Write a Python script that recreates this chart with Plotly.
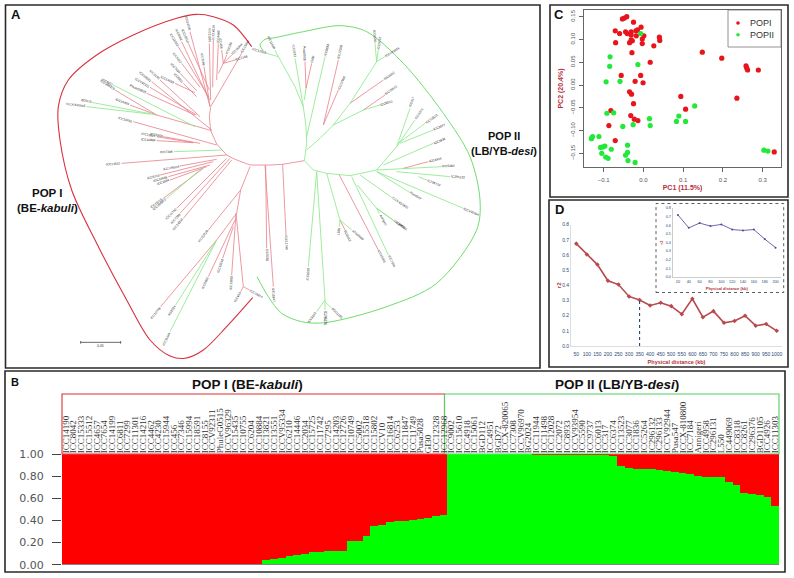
import math
import plotly.graph_objects as go

W, H = 794, 578
RED, GREEN = "#ff0000", "#00ff00"

# ---------- Panel B: STRUCTURE admixture ----------
pop1_names = ["ICC14190","ICC8042","ICC15333","ICC15512","ICC4657","ICC7654","ICC14199","ICC6811","ICC7299","ICC11301",
 "ICC14216","ICC4462","ICC4230","ICC15944","ICC456","ICC7346","ICC15994","ICC18591","ICC8155","ICCV92311",
 "PhuleG0515","ICCV96329","ICC15435","ICC10755","ICC6204","ICC10884","ICC13821","ICC13551","ICCV95334","ICC6210",
 "ICC14446","ICC2034","ICC15725","ICC11742","ICC7295","ICC14203","ICC12726","ICC10749","ICC5002","ICC15518",
 "ICC15802","ICCV10","ICC16814","ICC6253","ICC11847","ICC11749","Pusa5028","GI30","ICC12328","ICC12968"]
pop2_names = ["ICC9002","ICC15610","ICC4918","ICC15061","BGD112","ICC4951","BGD72","ICCX-820065","ICC7308","ICCV96970",
 "BG2024","ICC11944","ICC11498","ICC12028","ICC2072","ICC8933","ICCV93954","ICC5590","ICC9737","ICC6013",
 "ICC317","ICC6374","ICC13523","ICC3077","ICC1836","ICC5264","IC296132","IC296133","ICCV92944","Pusa547",
 "ICCX-810800","ICC7184","Annigeri","ICC4958","IC296131","L550","IC449069","ICC8318","ICC8261","IC296376",
 "BGD1105","ICC4926","ICC11303"]
pop1_green = [0]*26 + [.04,.045,.055,.08,.085,.09,.11,.115,.12,.125,.125,.21,.215,.26,.35,.36,.38,.395,.395,.40,.41,.42,.435,.45]
pop2_red = [0]*11 + [.003]*10 + [.02,.105,.125,.14,.14,.14,.145,.15,.16,.17,.18,.195,.205,.205,.21,.25,.28,.35,.36,.37,.39,.47]
accessions = pop1_names + pop2_names
green_share = pop1_green + [1 - v for v in pop2_red]
red_share = [1 - v for v in green_share]

# ---------- Panel C: PCA ----------
pop1_pc1 = [-.053,-.048,-.042,-.025,-.071,-.060,-.045,-.031,-.006,-.015,-.019,-.031,-.041,-.018,.001,-.003,-.031,-.070,-.035,-.028,-.003,.026,.040,.041,-.029,.017,.148,.197,.258,.260,.262,.289,-.056,-.007,-.021,-.001,-.035,-.030,.094,.235,-.025,.106,-.082,-.032,-.023,-.014,-.087,-.071,.329]
pop1_pc2 = [.145,.147,.150,.138,.119,.113,.117,.117,.127,.121,.119,.110,.113,.108,.108,.101,.099,.093,.093,.097,.091,.086,.105,.098,.071,.050,.072,.059,.042,.037,.033,.033,.021,.021,.008,.005,-.015,-.020,-.025,-.029,-.041,-.053,-.056,-.067,-.075,-.078,-.089,-.122,-.147]
pop2_pc1 = [-.084,-.085,-.014,-.094,-.059,-.007,-.092,-.075,-.052,-.026,.015,.017,.089,.083,.106,.129,-.112,-.128,-.130,-.131,-.097,-.108,-.102,-.081,-.040,-.105,-.040,-.045,-.095,-.089,-.039,-.021,.303,.313]
pop2_pc2 = [.062,.041,.045,.007,.008,.113,-.062,-.061,-.091,-.087,-.074,-.089,-.068,-.080,-.080,-.046,-.113,-.113,-.116,-.118,-.134,-.137,-.136,-.141,-.132,-.150,-.148,-.154,-.158,-.161,-.166,-.170,-.143,-.145]

# ---------- Panel D: LD decay ----------
ld_dist = ["50","100","150","200","250","300","350","400","450","500","550","600","650","700","750","800","850","900","950","1000"]
ld_r2 = [.675,.603,.537,.43,.405,.327,.303,.267,.285,.263,.21,.311,.19,.23,.153,.165,.20,.134,.145,.10]
inset_dist = ["20","40","60","80","100","120","140","160","180","200"]
inset_r2 = [.72,.57,.625,.59,.61,.55,.54,.55,.44,.34]

# ---------- Panel A: phylogenetic tree (branch from -> to, last flag = labelled tip) ----------
# left half
tree_left_red = [
 (632,322,628,350,0),(628,350,632,392,0),(632,392,650,432,0),(650,432,680,465,0),(680,465,705,478,0),(705,478,750,495,0),(750,495,810,495,0),(810,495,848,493,0),(848,493,913,482,0),
 (630,320,570,95,1),(628,300,545,125,1),(625,290,535,140,1),(628,270,565,130,1),(600,262,545,190,1),(590,272,540,220,1),(585,278,525,250,1),(590,290,550,250,1),
 (630,320,612,200,1),(632,300,628,130,1),(638,262,640,120,1),(650,240,655,130,1),(655,220,670,190,0),(670,190,680,165,1),(670,190,695,165,1),(670,190,665,150,1),(670,190,705,180,1),(632,320,725,160,1),
 (635,390,455,245,1),(600,350,480,240,1),(590,345,450,262,1),(585,345,440,280,1),(635,392,470,345,0),(470,345,345,270,1),(470,345,390,315,1),
 (650,435,400,365,1),(600,430,490,410,1),(580,428,470,422,1),(580,428,470,410,1),
 (680,465,365,490,1),(650,478,540,498,1),(640,485,480,525,1),(630,495,505,530,1),(620,500,510,540,1),(610,505,490,595,1),
 (680,475,530,625,1),(690,475,540,640,1),(695,480,550,655,1),
 (750,500,722,570,0),(722,570,625,690,1),(722,570,710,640,0),(710,640,650,720,0),(650,720,482,920,1),
 (705,660,625,830,1),(700,680,668,775,1),(708,640,695,825,1),(708,640,730,860,0),(730,860,722,875,1),(730,860,748,870,1),
 (797,495,800,745,1),(795,497,820,860,1),(848,493,858,705,1),
]
tree_left_green = [
 (585,380,340,255,1),(470,345,275,307,1),(450,342,260,320,1),(668,450,522,455,1),(605,505,500,595,1),
 (650,720,527,915,1),(650,720,510,995,1),
]
# right half (drawn with an x offset)
tree_right_green = [
 (103,482,110,430,0),(110,430,108,380,0),(108,380,100,320,0),(100,320,75,260,0),(75,260,25,170,0),(25,170,15,150,1),(25,170,-10,160,1),
 (100,320,75,175,1),(103,300,108,265,0),(110,410,165,170,1),
 (110,450,150,415,0),(150,415,190,375,0),(190,375,240,310,0),(240,310,320,185,0),(320,185,345,170,1),(320,185,315,130,1),(320,185,325,150,1),
 (190,375,280,330,0),(280,330,330,315,1),
 (103,482,130,510,0),(130,510,170,520,0),(170,520,240,527,0),(240,527,320,510,0),(320,510,380,440,0),(380,440,420,325,1),(380,440,435,360,1),(385,430,465,370,1),(390,430,490,390,1),(340,495,490,430,1),
 (320,510,515,500,1),(380,515,540,530,1),(445,530,470,540,1),(320,515,580,625,1),(320,515,420,578,1),(270,525,365,592,1),(245,530,355,765,1),
 (262,555,320,625,0),(320,625,328,640,1),(320,625,370,660,1),(320,625,375,665,1),
 (170,520,210,660,0),(210,660,208,680,1),(210,660,245,690,1),
 (140,515,115,800,1),(140,515,165,900,0),(165,900,140,935,1),(165,900,165,930,1),(165,905,185,925,1),
]
tree_right_red = [
 (108,265,105,185,1),(108,265,125,190,1),(160,375,205,180,1),(160,375,205,270,1),
 (240,310,340,240,1),(280,330,345,285,1),(400,505,475,485,1),(208,525,325,750,1),(210,660,225,690,1),
]
tree_scale = [(242,1027,362,1027),(242,1023,242,1031),(362,1023,362,1031)]
hull_red_x = [755,700,640,590,530,400,290,205,175,180,215,290,380,450,510,555,610,680,758]
hull_red_y = [140,75,50,43,55,105,165,240,320,420,570,730,900,1020,1068,1075,1050,980,893]
hull_green_x = [790,780,795,820,910,1020,1100,1210,1330,1410,1440,1430,1310,1160,975,905,845,805,771]
hull_green_y = [153,135,118,114,95,77,95,190,340,470,600,690,850,920,968,965,940,890,830]

# ---------- layout helpers ----------
def dx(a, b): return [a / W, b / W]
def dy(top, bottom): return [1 - bottom / H, 1 - top / H]
def px(v): return v / W
def py(v): return 1 - v / H

RIGHT_OFFSET = 810
names_iter = iter((pop1_names + pop2_names) * 2)
tree_texts = []

def segs(items, offset=0):
    xs, ys = [], []
    for b in items:
        x0, y0, x1, y1 = b[0] + offset, b[1], b[2] + offset, b[3]
        xs += [x0, x1, None]; ys += [y0, y1, None]
        if len(b) > 4 and b[4]:
            a = math.atan2(y1 - y0, x1 - x0)
            name = next(names_iter)
            gap = 2.6 * len(name) + 3
            ang = math.degrees(a)
            if ang > 90: ang -= 180
            elif ang <= -90: ang += 180
            tree_texts.append(dict(x=x1 + gap * math.cos(a), y=y1 + gap * math.sin(a), text=name,
                                   textangle=ang, xref="x", yref="y", showarrow=False,
                                   font=dict(size=3.2, color="#222", family="Liberation Sans")))
    return xs, ys

fig = go.Figure()

def tree_line(xs, ys, color, width, shape="linear"):
    fig.add_trace(go.Scatter(x=xs, y=ys, mode="lines", showlegend=False, hoverinfo="skip",
                             line=dict(color=color, width=width, shape=shape, smoothing=0.9), xaxis="x", yaxis="y"))

tree_line(*segs(tree_left_red), "#e77f88", 0.8)
tree_line(*segs(tree_right_red, RIGHT_OFFSET), "#e77f88", 0.8)
tree_line(*segs(tree_left_green), "#84e884", 0.8)
tree_line(*segs(tree_right_green, RIGHT_OFFSET), "#84e884", 0.8)
tree_line(hull_red_x, hull_red_y, "#d8303e", 1.1, "spline")
tree_line(hull_green_x, hull_green_y, "#6fdc6f", 1.0, "spline")
tree_line(*segs(tree_scale), "#444", 0.8)

# Panel B
idx = list(range(len(accessions)))
fig.add_trace(go.Bar(x=idx, y=green_share, marker=dict(color=GREEN, line=dict(width=0)), showlegend=False, xaxis="x2", yaxis="y2", hoverinfo="skip"))
fig.add_trace(go.Bar(x=idx, y=red_share, marker=dict(color=RED, line=dict(width=0)), showlegend=False, xaxis="x2", yaxis="y2", hoverinfo="skip"))

# Panel C
POP1_COL, POP2_COL = "#e8141c", "#22e83a"
fig.add_trace(go.Scatter(x=pop1_pc1, y=pop1_pc2, mode="markers", name="POPI", showlegend=False, marker=dict(color=POP1_COL, size=5.2), xaxis="x3", yaxis="y3"))
fig.add_trace(go.Scatter(x=pop2_pc1, y=pop2_pc2, mode="markers", name="POPII", showlegend=False, marker=dict(color=POP2_COL, size=5.2), xaxis="x3", yaxis="y3"))
# legend of panel C, sized like the original key box
fig.add_trace(go.Scatter(x=[738 * 3, 738 * 3], y=[23 * 3, 34.7 * 3], mode="markers", showlegend=False, hoverinfo="skip",
                         marker=dict(color=[POP1_COL, POP2_COL], size=3.6), xaxis="x", yaxis="y"))

# Panel D
fig.add_trace(go.Scatter(x=ld_dist, y=ld_r2, mode="lines+markers", showlegend=False,
                         line=dict(color="#b8494c", width=1.6), marker=dict(color="#b8494c", size=3.5, symbol="diamond"), xaxis="x4", yaxis="y4"))
fig.add_trace(go.Scatter(x=["350", "350"], y=[0, ld_r2[6]], mode="lines", showlegend=False,
                         line=dict(color="#2b4470", width=1.1, dash="dot"), xaxis="x4", yaxis="y4"))
fig.add_trace(go.Scatter(x=inset_dist, y=inset_r2, mode="lines+markers", showlegend=False,
                         line=dict(color="#6f66ad", width=1.0), marker=dict(color="#4f4a8f", size=2), xaxis="x5", yaxis="y5"))

FRAME = "#2a2a2a"
def frame(x0, y0, x1, y1, color=FRAME, width=1.6, dash="solid", fill=None):
    return dict(type="rect", xref="paper", yref="paper", x0=px(x0), x1=px(x1), y0=py(y1), y1=py(y0),
                line=dict(color=color, width=width, dash=dash), fillcolor=fill, layer="below")

shapes = [frame(5.5, 5, 540, 368), frame(550, 5, 788, 197), frame(549, 200, 788, 367), frame(5, 371, 785, 572),
          frame(62, 394, 444.5, 454, "#e03030", 1.1), frame(444.5, 394, 779, 454, "#50d060", 1.1),
          frame(656, 203.5, 783.7, 292.5, "#333", 0.8, "dot"),
          frame(728, 10, 781, 47, "#777", 0.8),
          dict(type="line", xref="x2", yref="y2", x0=-0.5, x1=len(accessions) - 0.5, y0=0, y1=0, line=dict(color="#333", width=1), layer="above")]

BOLD = "Liberation Sans"
def label(x, y, text, size=11, color="#111", anchor="center"):
    return dict(x=px(x), y=py(y), xref="paper", yref="paper", text=text, showarrow=False, xanchor=anchor,
                yanchor="middle", font=dict(size=size, color=color, family=BOLD))

annotations = tree_texts + [
    dict(x=300, y=1039, xref="x", yref="y", text="0.05", showarrow=False, font=dict(size=3.5, color="#333", family=BOLD)),
    label(15.5, 15, "<b>A</b>", 13), label(15, 382, "<b>B</b>", 11), label(559, 15, "<b>C</b>", 13), label(559, 209, "<b>D</b>", 13),
    label(47, 193, "<b>POP I</b>", 11.5), label(47, 208, "<b>(BE-<i>kabuli</i>)</b>", 11.5),
    label(504, 135.5, "<b>POP II</b>", 11), label(504, 151, "<b>(LB/YB-<i>desi</i>)</b>", 11),
    label(247, 384, "<b>POP I (BE-<i>kabuli</i>)</b>", 13.5), label(617, 384, "<b>POP II (LB/YB-<i>desi</i>)</b>", 13.5),
    label(748, 23, "POPI", 9, "#333", "left"), label(748, 34.7, "POPII", 9, "#333", "left"),
]

AXC = "#666"
TICK_C = dict(size=6, color="#555", family=BOLD)
BLUE = dict(size=5, color="#2b4a78", family="Liberation Sans")
TITLE_RED = dict(size=7, color="#b5303a", family=BOLD)

layout = dict(
    width=W, height=H, margin=dict(l=0, r=0, t=0, b=0, autoexpand=False), paper_bgcolor="white", plot_bgcolor="rgba(0,0,0,0)",
    barmode="stack", bargap=0, shapes=shapes, annotations=annotations, showlegend=False,
    xaxis=dict(domain=[0, 1], range=[0, W * 3], visible=False, fixedrange=True),
    yaxis=dict(domain=[0, 1], range=[H * 3, 0], visible=False, fixedrange=True),
    xaxis2=dict(domain=dx(62, 779), range=[-0.5, len(accessions) - 0.5], anchor="y2", side="top", tickmode="array",
                tickvals=idx, ticktext=accessions, tickangle=-90, ticks="", showgrid=False, zeroline=False, showline=False,
                tickfont=dict(size=9, color="#333", family="Liberation Serif")),
    yaxis2=dict(domain=dy(454.3, 564.7), range=[0, 1], anchor="x2", tickmode="array", tickvals=[0, .2, .4, .6, .8, 1],
                ticktext=["0.00", "0.20", "0.40", "0.60", "0.80", "1.00"], ticks="outside", ticklen=9, tickwidth=1, tickcolor="#444",
                showgrid=False, zeroline=False, showline=False, ticklabelstandoff=6,
                tickfont=dict(size=11, color="#555", family="DejaVu Sans")),
    xaxis3=dict(domain=dx(584, 781), range=[-0.1496, 0.346], anchor="y3", tickmode="array", tickvals=[-.1, 0, .1, .2, .3],
                ticktext=["−0.1", "0.0", "0.1", "0.2", "0.3"], ticks="outside", ticklen=4, tickcolor=AXC, mirror=True, showline=True, ticklabelstandoff=3,
                linecolor=AXC, linewidth=0.8, showgrid=False, zeroline=False, tickfont=TICK_C, tickangle=0,
                title=dict(text="<b>PC1 (11.5%)</b>", font=TITLE_RED, standoff=3)),
    yaxis3=dict(domain=dy(10, 167), range=[-0.18, 0.1647], anchor="x3", tickmode="array", tickvals=[-.15, -.1, -.05, 0, .05, .1, .15],
                ticktext=["−0.15", "−0.10", "−0.05", "0.00", "0.05", "0.10", "0.15"], tickangle=-90, ticks="outside", ticklen=4, tickcolor=AXC,
                mirror=True, showline=True, linecolor=AXC, linewidth=0.8, showgrid=False, zeroline=False, tickfont=TICK_C, ticklabelstandoff=2,
                title=dict(text="<b>PC2 (20.4%)</b>", font=TITLE_RED, standoff=5)),
    xaxis4=dict(domain=dx(571, 782), type="category", categoryorder="array", categoryarray=ld_dist, range=[-0.5, 19.5], anchor="y4",
                ticks="", showline=True, linecolor="#ddd", linewidth=0.8, showgrid=False, zeroline=False, tickangle=0, dtick=1, ticklabelstandoff=3,
                tickfont=dict(size=5, color="#2b4a78", family=BOLD), title=dict(text="<b>Physical distance (kb)</b>", font=dict(size=5.5, color="#b5303a", family=BOLD), standoff=4)),
    yaxis4=dict(domain=dy(224.7, 346), range=[0, 0.8], anchor="x4", dtick=0.1, tickformat=".1f", ticks="", showline=True, linecolor="#ddd",
                linewidth=0.8, showgrid=False, zeroline=False, tickfont=BLUE, title=dict(text="<b>r2</b>", font=dict(size=6, color="#b5303a", family=BOLD), standoff=0)),
    xaxis5=dict(domain=dx(672.5, 781), type="category", categoryorder="array", categoryarray=inset_dist, range=[-0.5, 9.5], anchor="y5",
                ticks="", showline=True, linecolor="#ccc", linewidth=0.6, showgrid=False, zeroline=False, tickangle=0, dtick=1, ticklabelstandoff=1,
                tickfont=dict(size=3.8, color="#2b4a78", family=BOLD), title=dict(text="<b>Physical distance (kb)</b>", font=dict(size=4, color="#b5303a", family=BOLD), standoff=3)),
    yaxis5=dict(domain=dy(208, 277), range=[0, 0.8], anchor="x5", dtick=0.1, tickformat=".1f", ticks="", showline=True, linecolor="#ccc",
                linewidth=0.6, showgrid=False, zeroline=False, tickfont=dict(size=3.8, color="#2b4a78", family=BOLD),
                title=dict(text="<b>r2</b>", font=dict(size=4, color="#b5303a", family=BOLD), standoff=2)),
)
fig.update_layout(**layout)
fig.write_html("out.html", config=dict(displayModeBar=False),
               post_script="document.body.style.margin='0';document.body.style.overflow='hidden';")
